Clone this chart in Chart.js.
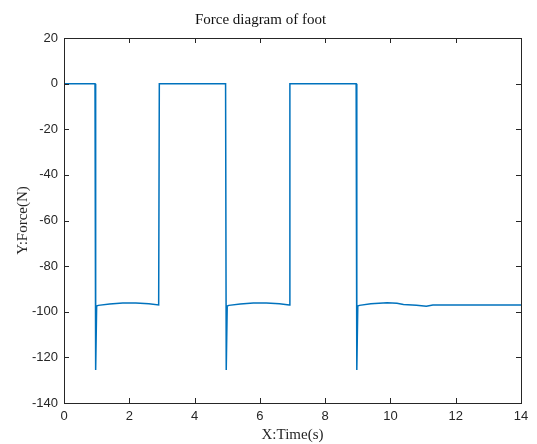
<!DOCTYPE html>
<html><head><meta charset="utf-8">
<script src="https://cdn.jsdelivr.net/npm/chart.js@4/dist/chart.umd.min.js"></script>
<style>html,body{margin:0;padding:0;background:#fff}#wrap{width:537px;height:444px}</style>
</head><body><div id="wrap"><canvas id="c" width="537" height="444"></canvas></div>
<script>
const time  = [0, 0.95, 0.97, 1.0, 1.05, 1.4, 1.8, 2.2, 2.6, 2.9, 2.92,
               4.95, 4.97, 5.0, 5.05, 5.4, 5.8, 6.2, 6.6, 6.9, 6.92,
               8.95, 8.97, 9.0, 9.05, 9.4, 9.9, 10.2, 10.4, 10.8, 11.1, 11.3, 12, 14];
const force = [0, 0, -125.5, -97.5, -97.2, -96.6, -96.2, -96.2, -96.5, -97, 0,
               0, -125.5, -97.5, -97.2, -96.6, -96.2, -96.2, -96.5, -97, 0,
               0, -125.5, -97.5, -97.2, -96.5, -96.1, -96.3, -96.8, -97.1, -97.6, -97, -97, -97];
const xTicks = [0, 2, 4, 6, 8, 10, 12, 14];
const yTicks = [20, 0, -20, -40, -60, -80, -100, -120, -140];
const titleText = 'Force diagram of foot';
const xLabel = 'X:Time(s)';
const yLabel = 'Y:Force(N)';

const boxPlugin = {
  id: 'box',
  afterDatasetsDraw(chart) {
    const {ctx, chartArea: a, scales: {x, y}} = chart;
    ctx.save();
    ctx.strokeStyle = '#262626';
    ctx.lineWidth = 1;
    ctx.strokeRect(a.left + 0.5, a.top + 0.5, a.right - a.left, a.bottom - a.top);
    const L = 5;
    ctx.beginPath();
    xTicks.forEach(v => {
      const px = Math.round(x.getPixelForValue(v)) + 0.5;
      ctx.moveTo(px, a.bottom); ctx.lineTo(px, a.bottom - L);
      ctx.moveTo(px, a.top); ctx.lineTo(px, a.top + L);
    });
    yTicks.forEach(v => {
      const py = Math.round(y.getPixelForValue(v)) + 0.5;
      ctx.moveTo(a.left, py); ctx.lineTo(a.left + L, py);
      ctx.moveTo(a.right, py); ctx.lineTo(a.right - L, py);
    });
    ctx.stroke();
    ctx.restore();
  }
};

new Chart(document.getElementById('c'), {
  type: 'line',
  data: {
    datasets: [{
      data: time.map((t, i) => ({x: t, y: force[i]})),
      borderColor: '#0072BD',
      borderWidth: 1.5,
      pointRadius: 0,
      tension: 0,
      fill: false
    }]
  },
  options: {
    responsive: false,
    animation: false,
    layout: {padding: {left: 0, right: 16, top: 0, bottom: 0}},
    plugins: {
      legend: {display: false},
      tooltip: {enabled: false},
      title: {
        display: true, text: titleText, color: '#111',
        font: {family: '"Liberation Serif", "Times New Roman", serif', size: 15, weight: 'normal'},
        padding: {top: 11, bottom: 9}
      }
    },
    scales: {
      x: {
        type: 'linear', min: 0, max: 14,
        afterBuildTicks: s => { s.ticks = xTicks.map(v => ({value: v})); },
        afterFit: s => { s.height = 41; },
        grid: {display: false, drawTicks: false},
        border: {display: false},
        ticks: {color: '#262626', padding: 6, maxRotation: 0,
                font: {family: '"Liberation Sans", Arial, sans-serif', size: 13}},
        title: {display: true, text: xLabel, color: '#262626', padding: {top: 3, bottom: 0},
                font: {family: '"Liberation Serif", "Times New Roman", serif', size: 15}}
      },
      y: {
        type: 'linear', min: -140, max: 20,
        afterBuildTicks: s => { s.ticks = yTicks.map(v => ({value: v})); },
        afterFit: s => { s.width = 64; },
        grid: {display: false, drawTicks: false},
        border: {display: false},
        ticks: {color: '#262626', padding: 6,
                font: {family: '"Liberation Sans", Arial, sans-serif', size: 13}},
        title: {display: true, text: yLabel, color: '#262626', padding: {top: 14, bottom: 0},
                font: {family: '"Liberation Serif", "Times New Roman", serif', size: 15}}
      }
    }
  },
  plugins: [boxPlugin]
});
</script></body></html>
